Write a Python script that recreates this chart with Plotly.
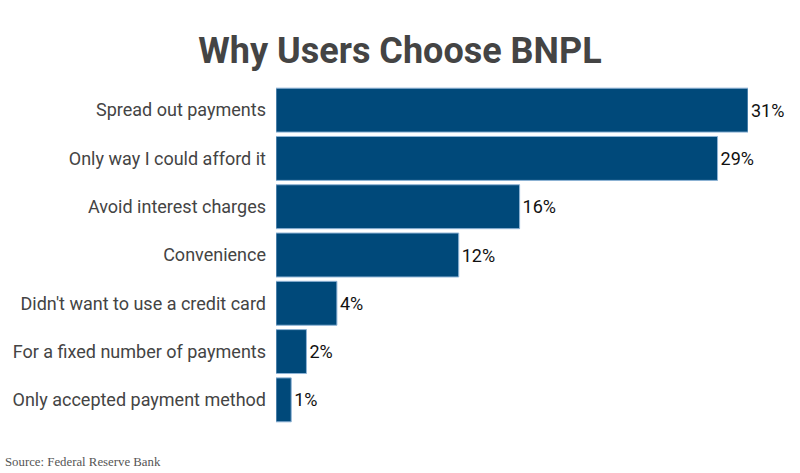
import plotly.graph_objects as go

categories = [
    "Spread out payments",
    "Only way I could afford it",
    "Avoid interest charges",
    "Convenience",
    "Didn't want to use a credit card",
    "For a fixed number of payments",
    "Only accepted payment method",
]
values = [31, 29, 16, 12, 4, 2, 1]
value_labels = [f"{v}%" for v in values]

W, H = 800, 473
ML, MR, MT, MB = 276, 52, 86, 49
plot_w = W - ML - MR
plot_h = H - MT - MB

fig = go.Figure(
    go.Bar(
        x=values,
        y=categories,
        orientation="h",
        text=value_labels,
        textposition="outside",
        cliponaxis=False,
        textfont=dict(family="Roboto", size=18, color="#111111"),
        marker=dict(color="#00497a", line=dict(color="#8fb4d6", width=1)),
    )
)

fig.update_layout(
    width=W,
    height=H,
    paper_bgcolor="white",
    plot_bgcolor="white",
    margin=dict(l=ML, r=MR, t=MT, b=MB),
    bargap=0.09,
    showlegend=False,
    title=dict(
        text="<b>Why Users Choose BNPL</b>",
        x=0.5,
        xanchor="center",
        y=1 - 50 / H,
        yanchor="middle",
        font=dict(family="Roboto", size=36, color="#444444"),
    ),
    xaxis=dict(range=[0, 31], visible=False, showgrid=False, zeroline=False),
    yaxis=dict(
        autorange="reversed",
        showgrid=False,
        zeroline=False,
        showline=False,
        ticks="",
        ticklabelstandoff=9,
        tickfont=dict(family="Roboto", size=18, color="#444444"),
    ),
    annotations=[
        dict(
            text="Source: Federal Reserve Bank",
            x=(3 - ML) / plot_w,
            y=(H - MB - 462) / plot_h,
            xref="paper",
            yref="paper",
            xanchor="left",
            yanchor="middle",
            showarrow=False,
            font=dict(family="Liberation Serif", size=12.8, color="#555555"),
        )
    ],
)

fig.write_html(
    "out.html",
    config={"displayModeBar": False},
    post_script="document.body.style.margin='0';",
)
